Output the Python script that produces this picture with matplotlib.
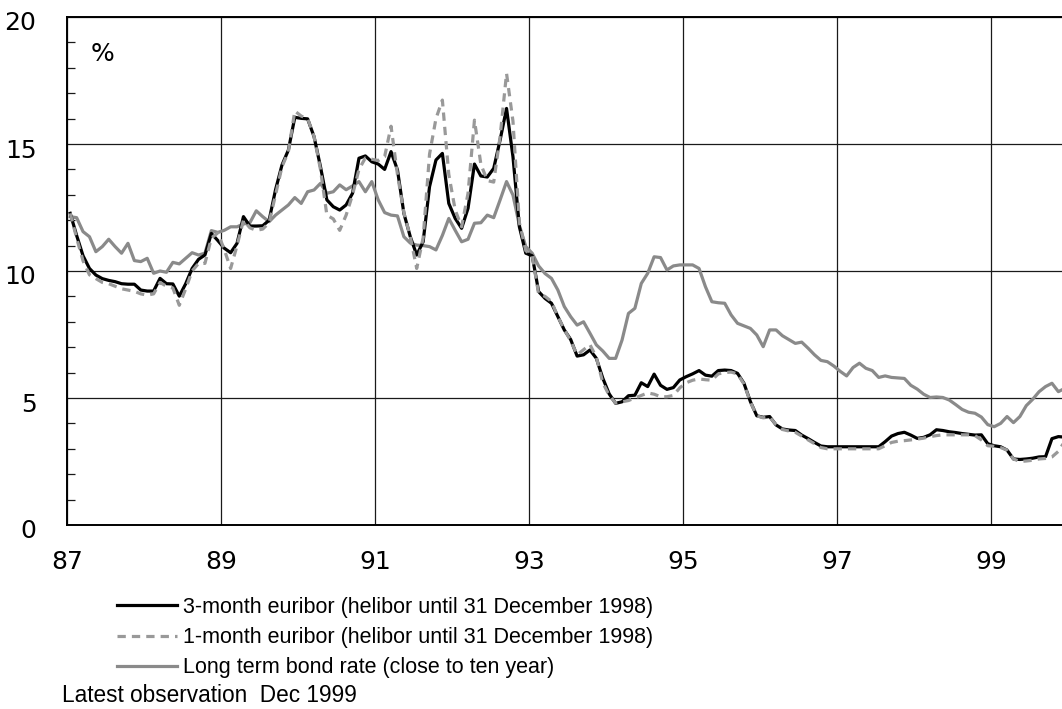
import numpy as np
import matplotlib
matplotlib.use("Agg")
import matplotlib.pyplot as plt
from matplotlib.ticker import MultipleLocator, FixedLocator
from matplotlib.transforms import ScaledTranslation

plt.rcParams['font.family'] = ['Liberation Sans', 'DejaVu Sans']

# Monthly observations, Jan 1987 - Dec 1999 (%)
three_month = [
    12.27, 11.4, 10.6, 10.1, 9.84, 9.7, 9.63, 9.58, 9.5, 9.48, 9.48, 9.25,      # 1987
    9.21, 9.21, 9.71, 9.5, 9.49, 9.01, 9.5, 10.1, 10.46, 10.63, 11.48, 11.2,    # 1988
    10.9, 10.72, 11.09, 12.14, 11.77, 11.77, 11.78, 12.0, 13.2, 14.17, 14.76, 16.05,  # 1989
    16.01, 15.99, 15.29, 14.11, 12.8, 12.53, 12.4, 12.6, 13.06, 14.44, 14.53, 14.3,   # 1990
    14.21, 14.0, 14.7, 13.98, 12.27, 11.35, 10.63, 11.15, 13.32, 14.37, 14.63, 12.66, # 1991
    12.07, 11.68, 12.47, 14.21, 13.74, 13.7, 14.04, 15.16, 16.4, 14.5, 11.74, 10.7,   # 1992
    10.6, 9.19, 8.92, 8.73, 8.2, 7.68, 7.3, 6.65, 6.7, 6.89, 6.56, 5.78,        # 1993
    5.16, 4.79, 4.85, 5.09, 5.11, 5.6, 5.45, 5.94, 5.5, 5.34, 5.41, 5.71,       # 1994
    5.84, 5.95, 6.08, 5.9, 5.86, 6.08, 6.1, 6.08, 5.97, 5.58, 4.86, 4.3,        # 1995
    4.24, 4.27, 3.94, 3.78, 3.74, 3.72, 3.54, 3.4, 3.25, 3.11, 3.08, 3.08,      # 1996
    3.08, 3.08, 3.08, 3.08, 3.08, 3.08, 3.08, 3.28, 3.5, 3.6, 3.65, 3.54,       # 1997
    3.41, 3.45, 3.55, 3.75, 3.72, 3.67, 3.64, 3.6, 3.57, 3.54, 3.55, 3.2,       # 1998
    3.12, 3.08, 2.95, 2.6, 2.58, 2.6, 2.63, 2.68, 2.69, 3.4, 3.48, 3.46,        # 1999
]

one_month = [
    12.27, 11.3, 10.4, 9.85, 9.7, 9.55, 9.5, 9.4, 9.3, 9.25, 9.2, 9.1,          # 1987
    9.05, 9.1, 9.55, 9.4, 9.33, 8.65, 9.3, 10.0, 10.3, 10.3, 11.3, 11.5,        # 1988
    10.85, 10.1, 11.0, 12.0, 11.7, 11.6, 11.65, 11.9, 13.0, 14.1, 14.7, 16.3,   # 1989
    16.1, 16.0, 15.3, 14.0, 12.2, 12.05, 11.6, 12.2, 13.0, 14.0, 14.45, 14.4,   # 1990
    14.35, 14.5, 15.7, 13.8, 12.3, 11.35, 10.1, 11.3, 14.6, 16.0, 16.73, 13.8,  # 1991
    12.4, 11.74, 13.06, 15.94, 14.2, 13.56, 13.5, 15.3, 17.78, 15.9, 11.9, 10.8, # 1992
    10.6, 9.1, 9.0, 8.8, 8.2, 7.7, 7.25, 6.7, 6.9, 7.1, 6.6, 5.6,               # 1993
    5.1, 4.8, 4.85, 4.9, 5.0, 5.1, 5.2, 5.15, 5.05, 5.05, 5.1, 5.4,             # 1994
    5.6, 5.7, 5.75, 5.72, 5.7, 5.95, 6.0, 6.02, 5.95, 5.55, 4.85, 4.3,          # 1995
    4.22, 4.25, 3.95, 3.76, 3.7, 3.65, 3.5, 3.35, 3.2, 3.05, 3.0, 3.0,          # 1996
    3.0, 3.0, 3.0, 3.0, 3.0, 3.0, 3.0, 3.12, 3.25, 3.3, 3.32, 3.35,             # 1997
    3.38, 3.42, 3.48, 3.52, 3.55, 3.55, 3.55, 3.55, 3.55, 3.52, 3.35, 3.12,     # 1998
    3.1, 3.05, 2.95, 2.6, 2.5, 2.52, 2.55, 2.6, 2.62, 2.68, 2.9, 3.3,           # 1999
]

long_bond = [
    12.14, 12.1, 11.55, 11.35, 10.76, 10.96, 11.25, 10.96, 10.7, 11.09, 10.41, 10.37,  # 1987
    10.5, 9.91, 10.0, 9.95, 10.34, 10.28, 10.5, 10.72, 10.63, 10.7, 11.59, 11.52,      # 1988
    11.6, 11.74, 11.74, 11.85, 11.9, 12.37, 12.14, 11.94, 12.2, 12.4, 12.6, 12.89,     # 1989
    12.66, 13.12, 13.19, 13.45, 13.06, 13.12, 13.39, 13.2, 13.35, 13.52, 13.12, 13.52, # 1990
    12.8, 12.3, 12.2, 12.17, 11.35, 11.1, 11.02, 11.0, 10.96, 10.83, 11.4, 12.07,      # 1991
    11.6, 11.15, 11.25, 11.88, 11.9, 12.2, 12.1, 12.8, 13.52, 12.99, 11.8, 10.96,      # 1992
    10.7, 10.2, 9.9, 9.71, 9.25, 8.6, 8.2, 7.87, 8.0, 7.55, 7.09, 6.85,                # 1993
    6.56, 6.56, 7.28, 8.33, 8.53, 9.51, 9.91, 10.56, 10.53, 10.04, 10.2, 10.24,        # 1994
    10.24, 10.24, 10.1, 9.38, 8.79, 8.75, 8.73, 8.27, 7.94, 7.84, 7.74, 7.48,          # 1995
    7.02, 7.68, 7.68, 7.45, 7.3, 7.15, 7.2, 6.96, 6.7, 6.48, 6.43, 6.26,               # 1996
    6.05, 5.87, 6.2, 6.37, 6.17, 6.08, 5.81, 5.87, 5.81, 5.79, 5.77, 5.5,              # 1997
    5.35, 5.15, 5.02, 5.04, 5.02, 4.92, 4.74, 4.55, 4.44, 4.4, 4.25, 3.95,             # 1998
    3.87, 4.0, 4.27, 4.03, 4.27, 4.7, 4.95, 5.25, 5.45, 5.58, 5.25, 5.38,              # 1999
]

start_year = 87
x_ticks = [87, 89, 91, 93, 95, 97, 99]
x_tick_labels = ['87', '89', '91', '93', '95', '97', '99']
y_ticks = [0, 5, 10, 15, 20]
y_tick_labels = ['0', '5', '10', '15', '20']

labels = [
    '3-month euribor (helibor until 31 December 1998)',
    '1-month euribor (helibor until 31 December 1998)',
    'Long term bond rate (close to ten year)',
]

W, H = 1062, 709
fig = plt.figure(figsize=(W / 100, H / 100), dpi=100)
ax = fig.add_axes([67 / W, (H - 525) / H, (W - 67) / W, (525 - 17) / H])

x = start_year + (np.arange(len(three_month)) + 0.5) / 12.0

l_bond, = ax.plot(x, long_bond, color='#8a8a8a', lw=2.3, zorder=3)
l_3m, = ax.plot(x, three_month, color='black', lw=2.3, zorder=4)
l_1m, = ax.plot(x, one_month, color='#999999', lw=2.3, dashes=(2.6, 1.9), zorder=5)

ax.set_xlim(87, 87 + (W - 67) / 77.0)
ax.set_ylim(0, 20)

ax.xaxis.set_major_locator(FixedLocator(x_ticks))
ax.set_xticklabels(x_tick_labels)
ax.yaxis.set_major_locator(FixedLocator(y_ticks))
ax.set_yticklabels(y_tick_labels)
ax.yaxis.set_minor_locator(MultipleLocator(1))

ax.grid(True, which='major', color='#1a1a1a', lw=0.9)
ax.set_axisbelow(True)

tick_font = {'family': 'DejaVu Sans', 'size': 18}
for lab in ax.get_xticklabels() + ax.get_yticklabels():
    lab.set_fontfamily(tick_font['family'])
    lab.set_fontsize(tick_font['size'])

ax.tick_params(axis='both', which='major', length=0)
ax.tick_params(axis='x', which='major', pad=18)
ax.tick_params(axis='y', which='major', pad=22)
ax.tick_params(axis='y', which='minor', direction='in', length=6, width=0.9, color='#1a1a1a')

for lab in ax.get_yticklabels():
    lab.set_transform(lab.get_transform() + ScaledTranslation(0, -4 / 100, fig.dpi_scale_trans))

for side in ['left', 'bottom', 'top']:
    ax.spines[side].set_color('black')
    ax.spines[side].set_linewidth(1.4)
ax.spines['right'].set_visible(False)

fig.text(102 / W, 1 - 54 / H, '%', ha='center', va='center', fontsize=18,
         family='DejaVu Sans')

ax.legend([l_3m, l_1m, l_bond], labels, loc='upper left',
          bbox_to_anchor=(117 / W, 1 - 597 / H), bbox_transform=fig.transFigure,
          frameon=False, fontsize=15.5, handlelength=2.8, handletextpad=0.28,
          labelspacing=0.42, borderpad=0, borderaxespad=0)

fig.text(62 / W, 1 - 696 / H, 'Latest observation  Dec 1999', ha='left', va='center',
         fontsize=16.3)

fig.savefig('out.png', dpi=100)
